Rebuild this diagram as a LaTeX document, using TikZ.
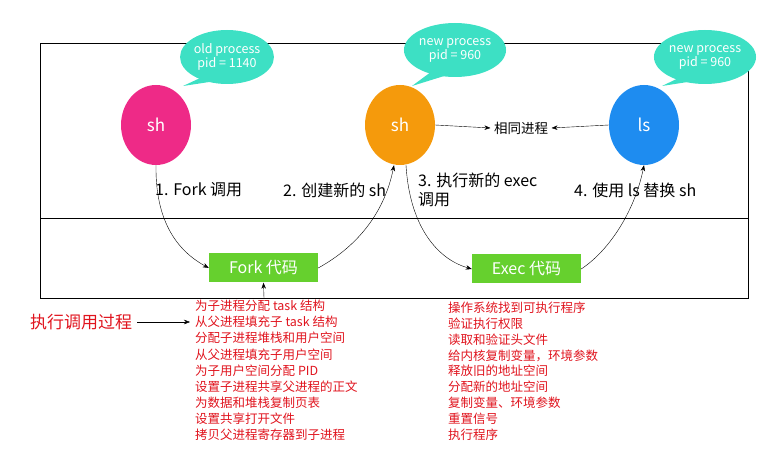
\documentclass[tikz,border=0pt]{standalone}
\usepackage{fontspec}
\setmainfont{Noto Sans CJK SC}
\usetikzlibrary{arrows.meta,shapes.geometric}
\definecolor{pinkc}{HTML}{EE2A87}
\definecolor{orangec}{HTML}{F59A0C}
\definecolor{bluec}{HTML}{1E8CF0}
\definecolor{tealc}{HTML}{3DE0C4}
\definecolor{greenc}{HTML}{66D02E}
\definecolor{redc}{HTML}{E0141E}
\begin{document}
\begin{tikzpicture}[x=1pt,y=-1pt,
  proc/.style={ellipse,minimum width=70pt,minimum height=80pt,text=white,font=\fontsize{17}{19}\selectfont,inner sep=0},
  bub/.style={ellipse,fill=tealc,text=white,minimum width=90pt,minimum height=54pt,align=center,font=\fontsize{12.5}{14}\selectfont,inner sep=0},
  code/.style={fill=greenc,text=white,minimum width=109pt,minimum height=29pt,font=\fontsize{16}{18}\selectfont},
  lab/.style={anchor=west,font=\fontsize{16}{19}\selectfont,inner sep=0},
  arr/.style={-{Stealth[length=6pt]},thin},
  redl/.style={anchor=north west,align=left,text=redc,font=\fontsize{12.5}{16.1}\selectfont,inner sep=0}]
\useasboundingbox (0,0) rectangle (780,454);
\draw[thick] (40,43) rectangle (748,298);
\draw[thick] (40,218) -- (748,218);
% bubbles
\foreach \n/\x/\y/\tx in {a/227/57/183, b/455/50/412, c/705/57/662}{
  \fill[tealc] (\x-16,\y+16) -- (\tx,86) -- (\x+2,\y+22) -- cycle;
}
\node[bub] (ba) at (227,57) {old process\\pid = 1140};
\node[bub] (bb) at (455,50) {new process\\pid = 960};
\node[bub] (bc) at (705,57) {new process\\pid = 960};
\node[proc,fill=pinkc] (p1) at (156,125) {sh};
\node[proc,fill=orangec] (p2) at (400,125) {sh};
\node[proc,fill=bluec] (p3) at (644,125) {ls};
\node[font=\fontsize{13.5}{15}\selectfont] (same) at (521,128) {相同进程};
\draw[arr] (p2.east) -- (same.west);
\draw[arr] (p3.west) -- (same.east);
\node[code] (fork) at (263.5,268) {Fork 代码};
\node[code] (exec) at (526.5,269) {Exec 代码};
\draw[arr] (p1.south) .. controls (155,230) and (185,255) .. (fork.west);
\draw[arr] (fork.east) .. controls (360,245) and (385,210) .. ([xshift=-6pt]p2.south);
\draw[arr] ([xshift=6pt]p2.south) .. controls (410,230) and (440,260) .. (exec.west);
\draw[arr] (exec.east) .. controls (610,250) and (635,210) .. (p3.south);
\node[lab] (l1) at (155,190) {1. Fork 调用};
\node[lab] (l2) at (283,190) {2. 创建新的 sh};
\node[lab,align=left] (l3) at (418,190) {3. 执行新的 exec\\调用};
\node[lab] (l4) at (574,190) {4. 使用 ls 替换 sh};
\coordinate (vb) at (264,298);
\draw[arr] (vb) -- (fork.south);
\node[anchor=west,text=redc,font=\fontsize{17}{19}\selectfont,inner sep=0] (exe) at (30,322) {执行调用过程};
\node[redl] (lista) at (195,300) {为子进程分配 task 结构\\从父进程填充子 task 结构\\分配子进程堆栈和用户空间\\从父进程填充子用户空间\\为子用户空间分配 PID\\设置子进程共享父进程的正文\\为数据和堆栈复制页表\\设置共享打开文件\\拷贝父进程寄存器到子进程};
\draw[arr] ([xshift=5pt]exe.east) -- (190,322);
\node[redl,font=\fontsize{12.5}{15.8}\selectfont] (listb) at (448,302) {操作系统找到可执行程序\\验证执行权限\\读取和验证头文件\\给内核复制变量，环境参数\\释放旧的地址空间\\分配新的地址空间\\复制变量、环境参数\\重置信号\\执行程序};
\end{tikzpicture}
\end{document}
